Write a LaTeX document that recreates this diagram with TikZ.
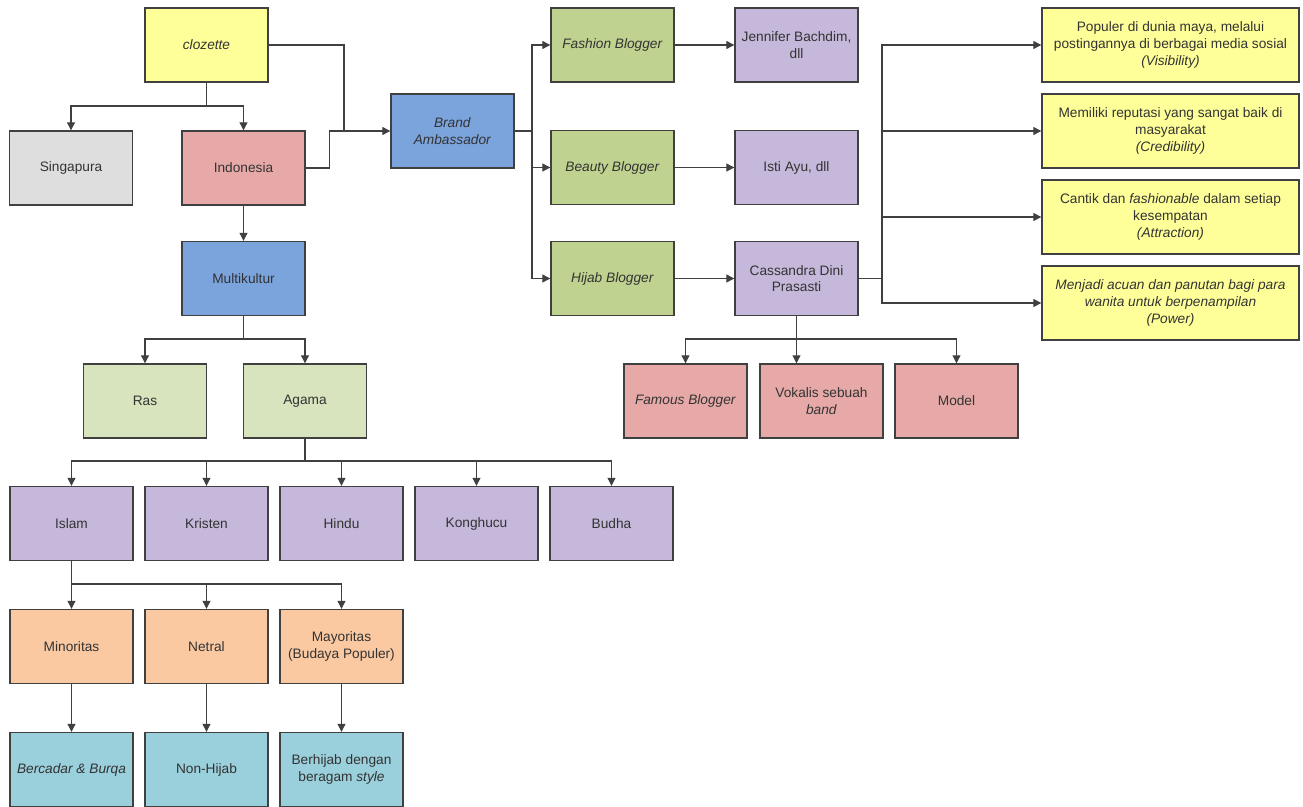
\documentclass[tikz,border=0pt]{standalone}
\usepackage{fontspec}
\setmainfont{Liberation Sans}
\usetikzlibrary{arrows.meta}
\definecolor{warnagaris}{HTML}{404040}
\definecolor{warnateks}{HTML}{333333}
\definecolor{kuning}{HTML}{FFFF99}
\definecolor{abu}{HTML}{DEDEDE}
\definecolor{merah}{HTML}{E6A9A7}
\definecolor{biru}{HTML}{7BA3DC}
\definecolor{hijau}{HTML}{BFD28F}
\definecolor{hijaumuda}{HTML}{D7E4BD}
\definecolor{ungu}{HTML}{C6B8DA}
\definecolor{oranye}{HTML}{FAC9A2}
\definecolor{tosca}{HTML}{9ACFDC}
\begin{document}
\begin{tikzpicture}[x=0.02cm,y=-0.02cm,
  kotak/.style={draw=warnagaris,line width=0.8pt,minimum width=2.46cm,minimum height=1.48cm,
    align=center,text=warnateks,inner sep=1pt,font=\fontsize{7.8}{9.5}\selectfont},
  lebar/.style={kotak,minimum width=5.14cm},
  sambung/.style={draw=warnagaris,line width=0.6pt},
  panah/.style={sambung,-{Triangle[length=4.5pt,width=4.5pt]}}]
\useasboundingbox (0,0) rectangle (1303,807);
\node[kotak,fill=kuning] (cloz) at (206.5,45) {\textit{clozette}};
\node[kotak,fill=abu] (sing) at (71,168) {Singapura};
\node[kotak,fill=merah] (indo) at (243.5,168) {Indonesia};
\node[kotak,fill=biru] (ba) at (452.5,131) {\textit{Brand}\\\textit{Ambassador}};
\node[kotak,fill=hijau] (fash) at (612.5,45) {\textit{Fashion Blogger}};
\node[kotak,fill=hijau] (beau) at (612.5,167.5) {\textit{Beauty Blogger}};
\node[kotak,fill=hijau] (hijab) at (612.5,278.5) {\textit{Hijab Blogger}};
\node[kotak,fill=ungu] (jenn) at (796.5,45) {Jennifer Bachdim,\\dll};
\node[kotak,fill=ungu] (isti) at (796.5,167.5) {Isti Ayu, dll};
\node[kotak,fill=ungu] (cass) at (796.5,278.5) {Cassandra Dini\\Prasasti};
\node[lebar,fill=kuning] (vis) at (1170.5,45) {Populer di dunia maya, melalui\\postingannya di berbagai media sosial\\\textit{(Visibility)}};
\node[lebar,fill=kuning] (cred) at (1170.5,131) {Memiliki reputasi yang sangat baik di\\masyarakat\\\textit{(Credibility)}};
\node[lebar,fill=kuning] (attr) at (1170.5,217) {Cantik dan \textit{fashionable} dalam setiap\\kesempatan\\\textit{(Attraction)}};
\node[lebar,fill=kuning] (pow) at (1170.5,303) {\textit{Menjadi acuan dan panutan bagi para}\\\textit{wanita untuk berpenampilan}\\\textit{(Power)}};
\node[kotak,fill=merah] (famous) at (685.5,401) {\textit{Famous Blogger}};
\node[kotak,fill=merah] (vokal) at (821.5,401) {Vokalis sebuah\\\textit{band}};
\node[kotak,fill=merah] (model) at (956.5,401) {Model};
\node[kotak,fill=biru] (multi) at (243.5,278.5) {Multikultur};
\node[kotak,fill=hijaumuda] (ras) at (145,401) {Ras};
\node[kotak,fill=hijaumuda] (agama) at (305,401) {Agama};
\node[kotak,fill=ungu] (islam) at (71.5,523.5) {Islam};
\node[kotak,fill=ungu] (kristen) at (206.5,523.5) {Kristen};
\node[kotak,fill=ungu] (hindu) at (341.5,523.5) {Hindu};
\node[kotak,fill=ungu] (kong) at (476.5,523.5) {Konghucu};
\node[kotak,fill=ungu] (budha) at (611.5,523.5) {Budha};
\node[kotak,fill=oranye] (minor) at (71.5,646.5) {Minoritas};
\node[kotak,fill=oranye] (netral) at (206.5,646.5) {Netral};
\node[kotak,fill=oranye] (mayor) at (341.5,646.5) {Mayoritas\\(Budaya Populer)};
\node[kotak,fill=tosca] (cadar) at (71.5,769.5) {\textit{Bercadar \& Burqa}};
\node[kotak,fill=tosca] (nonhijab) at (206.5,769.5) {Non-Hijab};
\node[kotak,fill=tosca] (berhijab) at (341.5,769.5) {Berhijab dengan\\beragam \textit{style}};
\coordinate (c1) at (206.5,106);
\coordinate (c2) at (344,131);
\coordinate (c3) at (532,131);
\coordinate (c4) at (882,278.5);
\coordinate (c5) at (796.5,339);
\coordinate (c6) at (243.5,339);
\coordinate (c7) at (305,461);
\coordinate (c8) at (71.5,584);
\path[sambung] (cloz.south) -- (c1);
\path[panah] (c1) -| (sing.north);
\path[panah] (c1) -| (indo.north);
\path[panah] (cloz.east) -| (c2) -- (ba.west);
\path[sambung] (indo.east) -- ++(24,0) |- (c2);
\path[sambung] (ba.east) -- (c3);
\path[panah] (c3) |- (fash.west);
\path[panah] (c3) |- (beau.west);
\path[panah] (c3) |- (hijab.west);
\path[panah] (fash) -- (jenn);
\path[panah] (beau) -- (isti);
\path[panah] (hijab) -- (cass);
\path[sambung] (cass.east) -- (c4);
\path[panah] (c4) |- (vis.west);
\path[panah] (c4) |- (cred.west);
\path[panah] (c4) |- (attr.west);
\path[panah] (c4) |- (pow.west);
\path[sambung] (cass.south) -- (c5);
\path[panah] (c5) -| (famous.north);
\path[panah] (c5) -- (vokal.north -| c5);
\path[panah] (c5) -| (model.north);
\path[panah] (indo) -- (multi);
\path[sambung] (multi.south) -- (c6);
\path[panah] (c6) -| (ras.north);
\path[panah] (c6) -| (agama.north);
\path[sambung] (agama.south) -- (c7);
\path[panah] (c7) -| (islam.north);
\path[panah] (c7) -| (kristen.north);
\path[panah] (c7) -| (hindu.north);
\path[panah] (c7) -| (kong.north);
\path[panah] (c7) -| (budha.north);
\path[sambung] (islam.south) -- (c8);
\path[panah] (c8) -| (minor.north);
\path[panah] (c8) -| (netral.north);
\path[panah] (c8) -| (mayor.north);
\path[panah] (minor) -- (cadar);
\path[panah] (netral) -- (nonhijab);
\path[panah] (mayor) -- (berhijab);
\end{tikzpicture}
\end{document}
